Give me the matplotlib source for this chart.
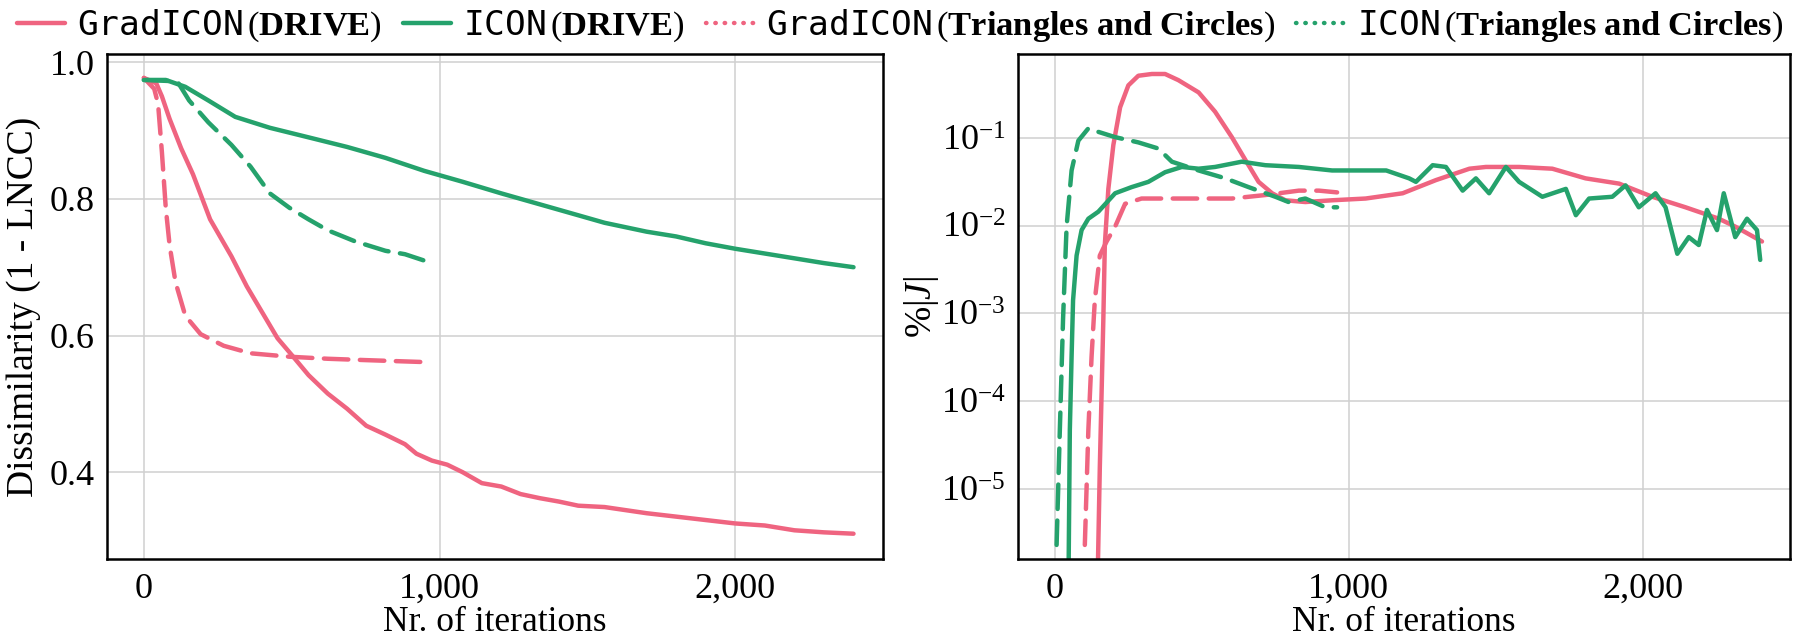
import numpy as np
import matplotlib
matplotlib.use("Agg")
import matplotlib.pyplot as plt
from matplotlib.lines import Line2D
from matplotlib.ticker import FuncFormatter, LogLocator, NullLocator

# ---- data ----
# left panel: dissimilarity (1 - LNCC)
grad_drive_x = [0, 42, 61, 87, 126, 166, 224, 296, 348, 400, 452, 505, 557, 622, 687, 752,
                817, 883, 922, 974, 1026, 1078, 1143, 1209, 1274, 1339, 1404, 1469, 1558,
                1700, 1800, 1900, 2000, 2100, 2200, 2300, 2400]
grad_drive_y = [0.977, 0.969, 0.950, 0.917, 0.874, 0.836, 0.770, 0.716, 0.672, 0.634, 0.596,
                0.569, 0.542, 0.515, 0.493, 0.468, 0.455, 0.441, 0.427, 0.417, 0.411, 0.400,
                0.384, 0.379, 0.368, 0.362, 0.357, 0.351, 0.349, 0.340, 0.335, 0.330, 0.325,
                0.322, 0.315, 0.312, 0.310]

icon_drive_x = [0, 74, 140, 218, 309, 426, 557, 687, 817, 948, 1078, 1209, 1339, 1469, 1558,
                1700, 1800, 1900, 2000, 2100, 2200, 2300, 2400]
icon_drive_y = [0.974, 0.974, 0.964, 0.944, 0.920, 0.904, 0.890, 0.876, 0.860, 0.841, 0.825,
                0.808, 0.792, 0.776, 0.765, 0.752, 0.745, 0.735, 0.727, 0.720, 0.713, 0.706,
                0.700]

grad_tc_x = [0, 35, 48, 61, 74, 87, 107, 140, 192, 270, 361, 492, 622, 752, 960]
grad_tc_y = [0.977, 0.961, 0.939, 0.868, 0.787, 0.732, 0.678, 0.629, 0.602, 0.585, 0.574,
             0.569, 0.566, 0.564, 0.561]

icon_tc_x = [0, 113, 153, 218, 296, 361, 426, 492, 557, 622, 713, 817, 883, 960]
icon_tc_y = [0.974, 0.972, 0.944, 0.912, 0.879, 0.847, 0.808, 0.787, 0.770, 0.754, 0.738,
             0.724, 0.719, 0.708]

# right panel: % of folded voxels, stored as log10 values
grad_drive_jx = [140, 153, 159, 165, 170, 182, 199, 222, 250, 284, 330, 375, 420, 489, 545,
                 602, 648, 693, 739, 784, 852, 943, 1057, 1183, 1296, 1410, 1466, 1579, 1692,
                 1805, 1919, 2032, 2145, 2258, 2314, 2405]
grad_drive_jlog = [-7.0, -4.75, -3.91, -3.06, -2.22, -1.58, -1.08, -0.65, -0.40, -0.29, -0.27,
                   -0.27, -0.34, -0.48, -0.70, -0.99, -1.25, -1.50, -1.63, -1.71, -1.73, -1.71,
                   -1.69, -1.63, -1.48, -1.35, -1.33, -1.33, -1.35, -1.46, -1.52, -1.67, -1.79,
                   -1.92, -2.01, -2.18]

icon_drive_jx = [44, 51, 57, 62, 74, 91, 114, 148, 205, 261, 318, 375, 432, 489, 545, 636, 716,
                 830, 943, 1057, 1127, 1205, 1228, 1285, 1330, 1387, 1432, 1477, 1534, 1579,
                 1658, 1738, 1772, 1817, 1896, 1941, 1986, 2043, 2077, 2117, 2156, 2190, 2218,
                 2252, 2275, 2314, 2354, 2388, 2399]
icon_drive_jlog = [-7.0, -4.33, -3.49, -2.85, -2.34, -2.05, -1.92, -1.84, -1.63, -1.56, -1.50,
                   -1.39, -1.33, -1.35, -1.33, -1.27, -1.31, -1.33, -1.37, -1.37, -1.37, -1.46,
                   -1.50, -1.31, -1.33, -1.60, -1.46, -1.63, -1.33, -1.50, -1.67, -1.58, -1.88,
                   -1.69, -1.67, -1.54, -1.79, -1.63, -1.79, -2.32, -2.13, -2.22, -1.82, -2.05,
                   -1.63, -2.13, -1.92, -2.05, -2.39]

grad_tc_jx = [102, 114, 125, 136, 153, 176, 205, 239, 295, 375, 489, 602, 716, 830, 898, 960]
grad_tc_jlog = [-5.64, -4.33, -3.49, -2.85, -2.34, -2.18, -2.01, -1.75, -1.69, -1.69, -1.69,
                -1.69, -1.65, -1.60, -1.60, -1.62]

icon_tc_jx = [6, 17, 28, 40, 57, 80, 114, 148, 205, 284, 352, 398, 489, 580, 659, 750, 795,
              852, 920, 960]
icon_tc_jlog = [-5.64, -4.33, -3.06, -2.01, -1.37, -1.03, -0.89, -0.93, -0.99, -1.05, -1.12,
                -1.27, -1.37, -1.46, -1.56, -1.67, -1.73, -1.69, -1.79, -1.79]

labels = [r"$\mathtt{GradICON}\,(\mathbf{DRIVE})$",
          r"$\mathtt{ICON}\,(\mathbf{DRIVE})$",
          r"$\mathtt{GradICON}\,(\mathbf{Triangles\ and\ Circles})$",
          r"$\mathtt{ICON}\,(\mathbf{Triangles\ and\ Circles})$"]

PINK = "#ef6480"
GREEN = "#25a26c"
LW = 3.2
DASH = (5.5, 2.6)
TICK_FS = 26

plt.rcParams["font.family"] = "serif"
plt.rcParams["font.serif"] = ["Liberation Serif", "DejaVu Serif"]
plt.rcParams["mathtext.fontset"] = "custom"
plt.rcParams["mathtext.rm"] = "Liberation Serif"
plt.rcParams["mathtext.it"] = "Liberation Serif:italic"
plt.rcParams["mathtext.bf"] = "Liberation Serif:bold"
plt.rcParams["mathtext.tt"] = "DejaVu Sans Mono"
plt.rcParams["axes.unicode_minus"] = False


def style_axes(ax):
    ax.grid(True, color="#d0d0d0", lw=1.1)
    ax.set_axisbelow(True)
    for s in ax.spines.values():
        s.set_linewidth(1.8)
        s.set_color("black")
    ax.tick_params(length=0, labelsize=TICK_FS, pad=9)
    ax.tick_params(axis="x", pad=10)
    ax.set_xlim(-125, 2500)
    ax.set_xticks([0, 1000, 2000])
    ax.xaxis.set_major_formatter(FuncFormatter(lambda v, p: f"{int(v):,}"))
    ax.set_xlabel("Nr. of iterations", fontsize=25.5, labelpad=0)


fig = plt.figure(figsize=(18, 6.42), dpi=100)
ax1 = fig.add_axes([0.0594, 0.1293, 0.4312, 0.7866])
ax2 = fig.add_axes([0.5656, 0.1293, 0.4288, 0.7866])

kw = dict(lw=LW, solid_capstyle="round", dash_capstyle="round")
ax1.plot(grad_drive_x, grad_drive_y, color=PINK, **kw)
ax1.plot(icon_drive_x, icon_drive_y, color=GREEN, **kw)
ax1.plot(grad_tc_x, grad_tc_y, color=PINK, dashes=DASH, **kw)
ax1.plot(icon_tc_x, icon_tc_y, color=GREEN, dashes=DASH, **kw)
style_axes(ax1)
ax1.set_ylim(0.273, 1.012)
ax1.set_yticks([0.4, 0.6, 0.8, 1.0])
ax1.yaxis.set_major_formatter(FuncFormatter(lambda v, p: f"{v:.1f}"))
ax1.set_ylabel("Dissimilarity (1 - LNCC)", fontsize=27, labelpad=6)

ax2.plot(grad_drive_jx, np.power(10.0, grad_drive_jlog), color=PINK, **kw)
ax2.plot(icon_drive_jx, np.power(10.0, icon_drive_jlog), color=GREEN, **kw)
ax2.plot(grad_tc_jx, np.power(10.0, grad_tc_jlog), color=PINK, dashes=DASH, **kw)
ax2.plot(icon_tc_jx, np.power(10.0, icon_tc_jlog), color=GREEN, dashes=DASH, **kw)
ax2.set_yscale("log")
style_axes(ax2)
ax2.set_ylim(10 ** -5.80, 10 ** -0.042)
ax2.yaxis.set_major_locator(LogLocator(base=10, numticks=10))
ax2.yaxis.set_minor_locator(NullLocator())
ax2.set_ylabel(r"$\%|J|$", fontsize=27, labelpad=0)

handles = [Line2D([], [], color=PINK, lw=LW, solid_capstyle="round"),
           Line2D([], [], color=GREEN, lw=LW, solid_capstyle="round"),
           Line2D([], [], color=PINK, lw=LW, linestyle=(0, (0.1, 2.0)), dash_capstyle="round"),
           Line2D([], [], color=GREEN, lw=LW, linestyle=(0, (0.1, 2.0)), dash_capstyle="round")]
fig.legend(handles, labels, loc="upper center", bbox_to_anchor=(0.5, 1.015), ncol=4,
           frameon=False, fontsize=24.8, handlelength=1.4, handletextpad=0.35,
           columnspacing=0.6, borderaxespad=0.1)

fig.savefig("out.png", dpi=100)
